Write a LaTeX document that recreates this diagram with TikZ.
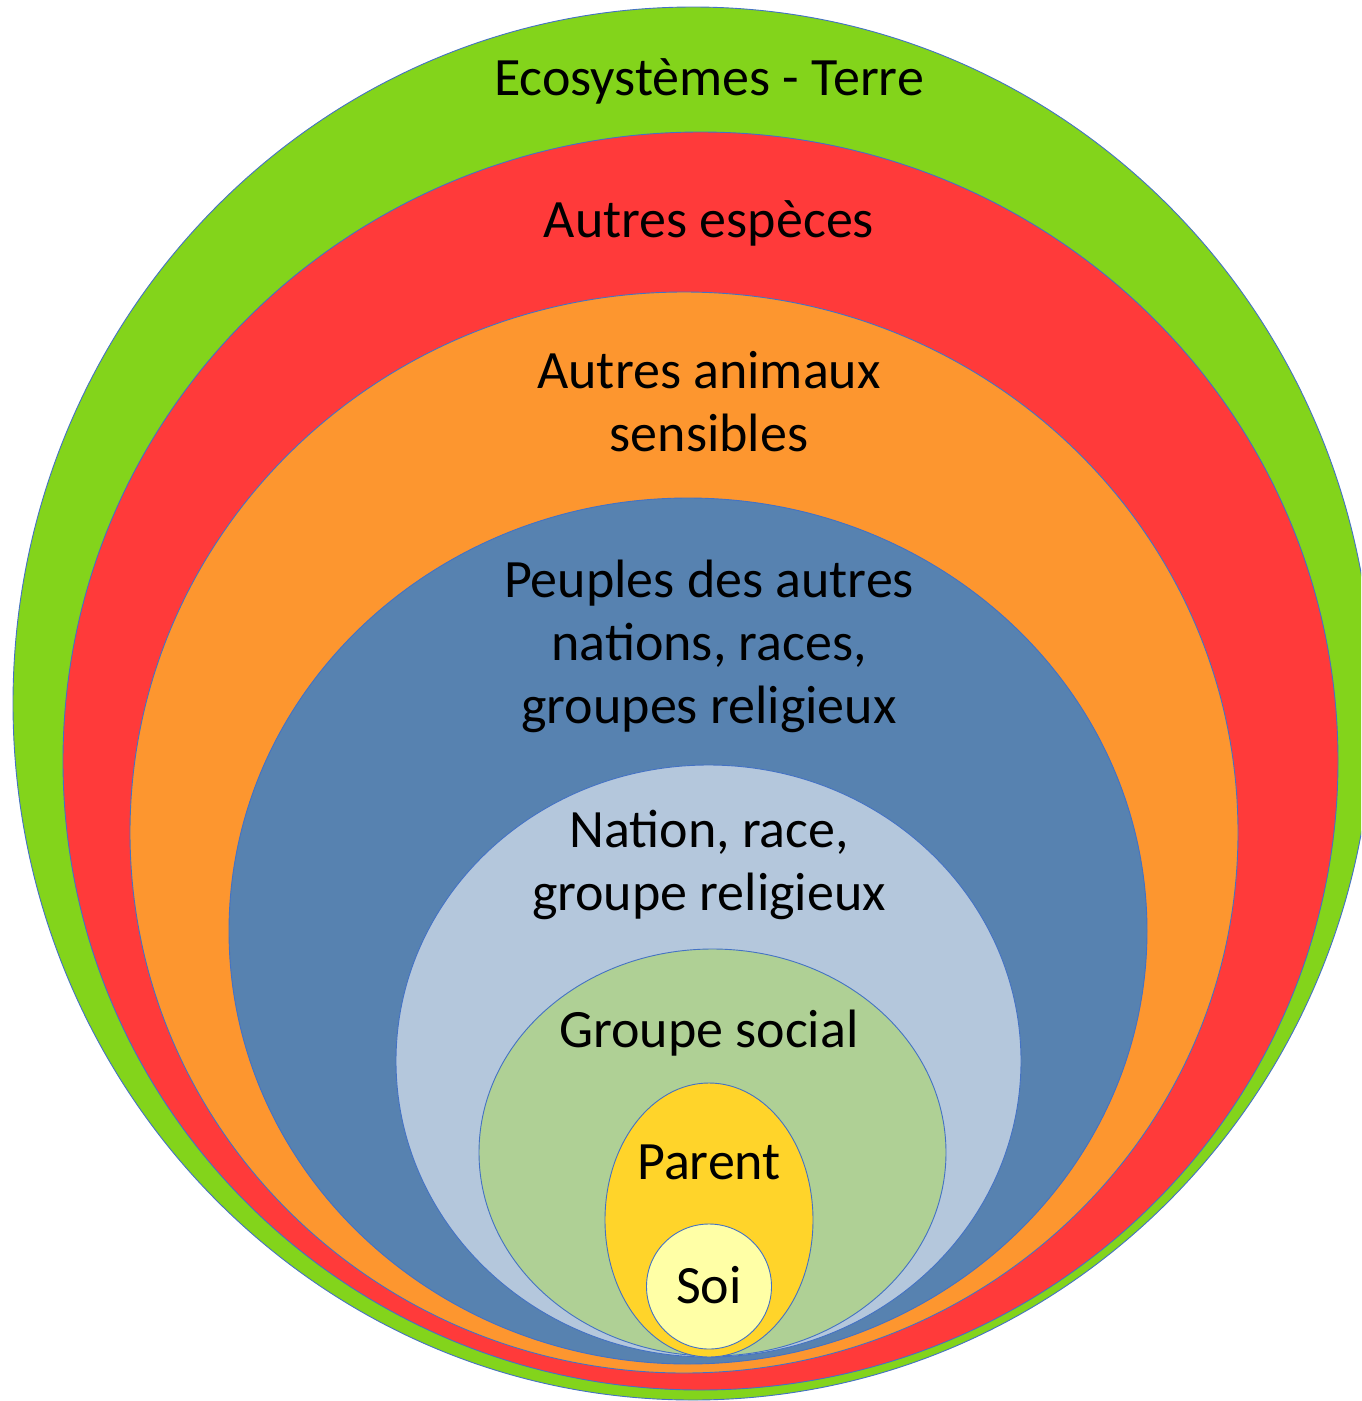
\documentclass[tikz,border=0pt]{standalone}
\usepackage{fontspec}
\setmainfont{Carlito}
\usetikzlibrary{shapes.geometric}
\definecolor{cEco}{HTML}{83D41B}
\definecolor{cEsp}{HTML}{FF3A3A}
\definecolor{cAni}{HTML}{FD962F}
\definecolor{cPeu}{HTML}{5782B0}
\definecolor{cNat}{HTML}{B4C7DC}
\definecolor{cGrp}{HTML}{AFD095}
\definecolor{cPar}{HTML}{FFD42A}
\definecolor{cSoi}{HTML}{FFFFA6}
\definecolor{cLine}{HTML}{4472C4}
\tikzset{
  ring/.style={ellipse, draw=cLine, line width=0.9pt, inner sep=0pt},
  lbl/.style={align=center, font=\fontsize{54}{63}\selectfont, text=black, anchor=base}
}
\begin{document}
\begin{tikzpicture}[x=1pt,y=-1pt]
\useasboundingbox (0,0) rectangle (1361,1401);
\clip (0,0) rectangle (1361,1401);
\node[ring, fill=cEco, minimum width=1360pt, minimum height=1393pt] (eco) at (693,703.5) {};
\node[ring, fill=cEsp, minimum width=1275pt, minimum height=1258pt] (esp) at (700.5,761) {};
\node[ring, fill=cAni, minimum width=1108pt, minimum height=1081pt] (ani) at (684,832.5) {};
\node[ring, fill=cPeu, minimum width=918pt, minimum height=866pt] (peu) at (688,931) {};
\node[ring, fill=cNat, minimum width=625pt, minimum height=592pt] (nat) at (708.5,1061) {};
\node[ring, fill=cGrp, minimum width=467pt, minimum height=407pt] (grp) at (712.5,1152.5) {};
\node[ring, fill=cPar, minimum width=208pt, minimum height=274pt] (par) at (709,1220) {};
\node[ring, fill=cSoi, minimum width=125pt, minimum height=125pt] (soi) at (709,1286.5) {};
\node[lbl] (teco) at (709,95) {Ecosystèmes - Terre};
\node[lbl] (tesp) at (709,237) {Autres espèces};
\node[lbl] (tani) at (709,451) {Autres animaux\\sensibles};
\node[lbl] (tpeu) at (709,723) {Peuples des autres\\nations, races,\\groupes religieux};
\node[lbl] (tnat) at (709,910) {Nation, race,\\groupe religieux};
\node[lbl] (tgrp) at (709,1047) {Groupe social};
\node[lbl] (tpar) at (709,1179) {Parent};
\node[lbl] (tsoi) at (709,1303) {Soi};
\end{tikzpicture}
\end{document}
